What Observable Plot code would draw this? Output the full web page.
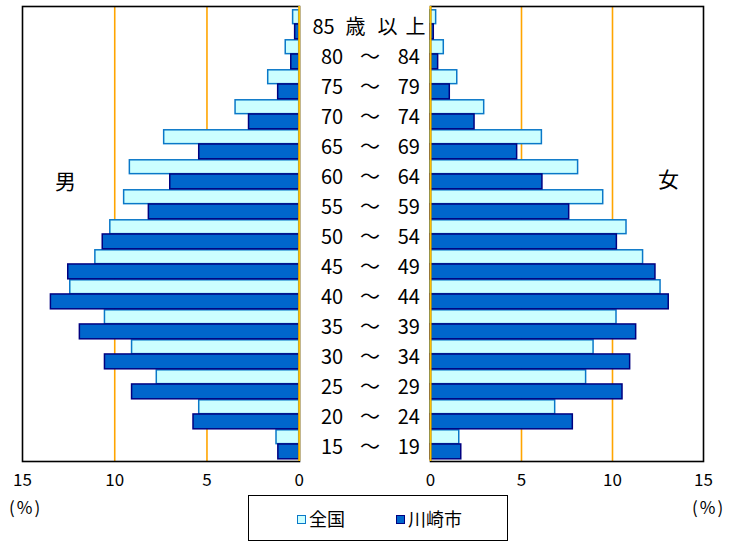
<!DOCTYPE html>
<html><head><meta charset="utf-8">
<script src="https://cdn.jsdelivr.net/npm/d3@7"></script>
<script src="https://cdn.jsdelivr.net/npm/@observablehq/plot@0.6"></script>
<style>
body{margin:0;background:#fff;font-family:"Noto Sans CJK JP","Noto Sans",sans-serif;}
#wrap{position:relative;width:741px;height:543px;overflow:hidden;background:#fff;}
.abs{position:absolute;}
.pct{position:absolute;font-size:17px;letter-spacing:2px;color:#000;line-height:1;}
#legend{position:absolute;left:248px;top:495px;width:258px;height:44px;border:1.6px solid #000;box-sizing:content-box;}
.item{position:absolute;top:11px;font-size:18px;line-height:22px;color:#000;}
.sw{display:inline-block;width:7px;height:7px;border:1.5px solid;margin-right:3px;vertical-align:2px;}
</style></head>
<body><div id="wrap"></div>
<script>
const ageKeys = ["85+","80-84","75-79","70-74","65-69","60-64","55-59","50-54","45-49","40-44","35-39","30-34","25-29","20-24","15-19"];
const ageLabels = ["85 歳 以 上","80 ～ 84","75 ～ 79","70 ～ 74","65 ～ 69","60 ～ 64","55 ～ 59","50 ～ 54","45 ～ 49","40 ～ 44","35 ～ 39","30 ～ 34","25 ～ 29","20 ～ 24","15 ～ 19"];
const series = ["全国","川崎市"];
const maleNational   = [0.33,0.73,1.68,3.45,7.32,9.18,9.49,10.24,11.05,12.41,10.53,9.06,7.72,5.42,1.23];
const maleKawasaki   = [0.22,0.43,1.14,2.72,5.42,6.99,8.15,10.65,12.52,13.46,11.89,10.53,9.06,5.73,1.13];
const femaleNational = [0.31,0.73,1.47,2.95,6.12,8.11,9.49,10.77,11.68,12.64,10.22,8.96,8.55,6.85,1.58];
const femaleKawasaki = [0.18,0.42,1.06,2.42,4.76,6.15,7.62,10.24,12.36,13.09,11.30,10.97,10.55,7.82,1.69];
const leftTicks = [15,10,5,0];
const rightTicks = [0,5,10,15];
const gridTicks = [5,10];
const sexLabels = ["男","女"];
const unitLabel = "(%)";

const colors = {
  "全国":   {fill:"#CCFFFF", stroke:"#0A78C8"},
  "川崎市": {fill:"#0066CC", stroke:"#000080"}
};
const FONT = '"Noto Sans CJK JP","Noto Sans",sans-serif';
const H = 490, MT = 6, MB = 29;
const half = (H - MT - MB) / ageKeys.length / 2;

function rows(vals){ return ageKeys.map((a,i)=>({age:a, v:vals[i]})); }

function barMarks(nat, city){
  return [
    Plot.barX(rows(nat), {x:"v", y:"age", fill:colors["全国"].fill, stroke:colors["全国"].stroke, strokeWidth:1.5, insetTop:0.8, insetBottom:half+0.2}),
    Plot.barX(rows(city), {x:"v", y:"age", fill:colors["川崎市"].fill, stroke:colors["川崎市"].stroke, strokeWidth:1.5, insetTop:half-0.2, insetBottom:0.2})
  ];
}

const wrap = document.getElementById("wrap");

// Left (male) panel
const left = Plot.plot({
  width:300, height:H, marginTop:MT, marginBottom:MB, marginLeft:22, marginRight:1,
  style:{fontFamily:FONT, fontSize:"17px", background:"transparent", color:"#000", overflow:"visible"},
  x:{domain:[15,0], range:[22,298.7], axis:null, label:null},
  y:{domain:ageKeys, padding:0, axis:null},
  marks:[
    Plot.ruleX(gridTicks, {stroke:"#FFA500", strokeWidth:1.6}),
    ...barMarks(maleNational, maleKawasaki),
    Plot.frame({stroke:"#000", strokeWidth:1.6}),
    Plot.ruleX([0], {stroke:"#FFC000", strokeWidth:2}),
    Plot.axisX({ticks:leftTicks, tickSize:0, tickPadding:12, fontSize:17, label:null, tickFormat:d=>String(d)}),
    Plot.text([sexLabels[0]], {frameAnchor:"top-left", textAnchor:"middle", lineAnchor:"middle", dx:43, dy:176, fontSize:21, fill:"#000"})
  ]
});
left.classList.add("abs");
left.style.left = "0px"; left.style.top = "0px";
wrap.appendChild(left);

// Right (female) panel with centre age labels in its left margin
const parts = ageLabels.map(s => s.split(" "));
const offs3 = [-98.5,-60.5,-21.7];
const offs4 = [-107,-75,-43,-15];
const textMarks = [];
ageKeys.forEach((a,i)=>{
  const p = parts[i];
  const offs = p.length === 4 ? offs4 : offs3;
  p.forEach((t,k)=>{
    textMarks.push(Plot.text([{age:a, t}], {y:"age", text:"t", frameAnchor:"left", textAnchor:"middle", fontSize:20, fill:"#000", dx:offs[k], dy:3}));
  });
});

const right = Plot.plot({
  width:441, height:H, marginTop:MT, marginBottom:MB, marginLeft:130, marginRight:38,
  style:{fontFamily:FONT, fontSize:"17px", background:"transparent", color:"#000", overflow:"visible"},
  x:{domain:[0,15], range:[130,403], axis:null, label:null},
  y:{domain:ageKeys, padding:0, axis:null},
  marks:[
    Plot.ruleX(gridTicks, {stroke:"#FFA500", strokeWidth:1.6}),
    ...barMarks(femaleNational, femaleKawasaki),
    Plot.frame({stroke:"#000", strokeWidth:1.6}),
    Plot.ruleX([0], {stroke:"#FFC000", strokeWidth:2}),
    Plot.axisX({ticks:rightTicks, tickSize:0, tickPadding:12, fontSize:17, label:null, tickFormat:d=>String(d)}),
    Plot.text([sexLabels[1]], {frameAnchor:"top-right", textAnchor:"middle", lineAnchor:"middle", dx:-35, dy:174, fontSize:21, fill:"#000"}),
    ...textMarks
  ]
});
right.classList.add("abs");
right.style.left = "300px"; right.style.top = "0px";
wrap.appendChild(right);

// (%) unit labels
[[9,498],[692,498]].forEach(([x,y])=>{
  const d = document.createElement("div");
  d.className = "pct"; d.textContent = unitLabel;
  d.style.left = x+"px"; d.style.top = y+"px";
  wrap.appendChild(d);
});

// legend
const lg = document.createElement("div");
lg.id = "legend";
const itemX = [48, 147];
series.forEach((s,i)=>{
  const it = document.createElement("div");
  it.className = "item";
  it.style.left = itemX[i]+"px";
  const sw = document.createElement("span");
  sw.className = "sw";
  sw.style.background = colors[s].fill;
  sw.style.borderColor = colors[s].stroke;
  it.appendChild(sw);
  it.appendChild(document.createTextNode(s));
  lg.appendChild(it);
});
wrap.appendChild(lg);
</script>
</body></html>
